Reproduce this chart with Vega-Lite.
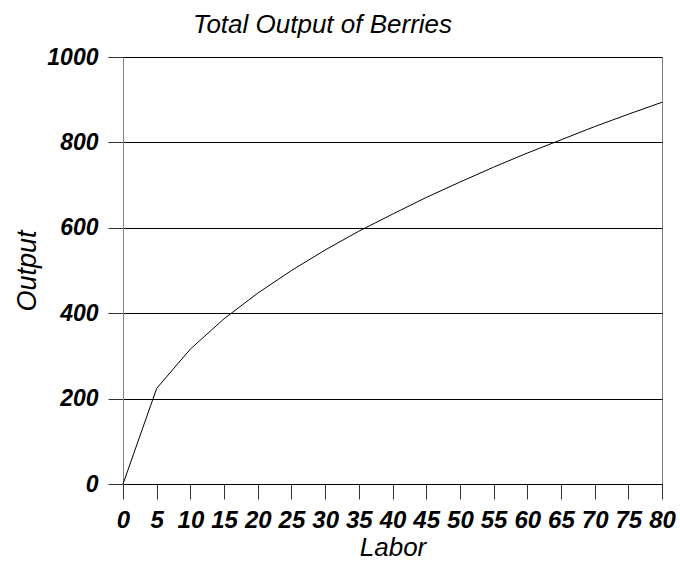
{
  "$schema": "https://vega.github.io/schema/vega-lite/v6.json",
  "autosize": {"type": "none"},
  "width": 539,
  "height": 427,
  "padding": {"left": 123, "top": 57, "right": 18, "bottom": 83},
  "background": "white",
  "config": {
    "view": {"stroke": "#808080", "strokeWidth": 1},
    "font": "Liberation Sans"
  },
  "title": {
    "text": "Total Output of Berries",
    "font": "Liberation Sans",
    "fontSize": 26,
    "fontStyle": "italic",
    "fontWeight": "normal",
    "color": "black",
    "dx": -70,
    "offset": 8
  },
  "data": {
    "values": [
      {"Labor": 0, "Output": 0},
      {"Labor": 5, "Output": 224},
      {"Labor": 10, "Output": 316},
      {"Labor": 15, "Output": 387},
      {"Labor": 20, "Output": 447},
      {"Labor": 25, "Output": 500},
      {"Labor": 30, "Output": 548},
      {"Labor": 35, "Output": 592},
      {"Labor": 40, "Output": 632},
      {"Labor": 45, "Output": 671},
      {"Labor": 50, "Output": 707},
      {"Labor": 55, "Output": 742},
      {"Labor": 60, "Output": 775},
      {"Labor": 65, "Output": 806},
      {"Labor": 70, "Output": 837},
      {"Labor": 75, "Output": 866},
      {"Labor": 80, "Output": 894}
    ]
  },
  "mark": {"type": "line", "color": "black", "strokeWidth": 1},
  "encoding": {
    "x": {
      "field": "Labor",
      "type": "quantitative",
      "scale": {"domain": [0, 80], "nice": false},
      "axis": {
        "values": [0,5,10,15,20,25,30,35,40,45,50,55,60,65,70,75,80],
        "grid": false,
        "domainColor": "black",
        "tickColor": "#333333",
        "tickSize": 15,
        "labelPadding": 9,
        "labelFont": "Liberation Sans",
        "labelFontSize": 24,
        "labelFontStyle": "italic",
        "labelFontWeight": "bold",
        "labelColor": "black",
        "labelAngle": 0,
        "labelOverlap": false,
        "labelFlush": false,
        "title": "Labor",
        "titleFont": "Liberation Sans",
        "titleFontSize": 26,
        "titleFontStyle": "italic",
        "titleFontWeight": "normal",
        "titleColor": "black",
        "titlePadding": 2
      }
    },
    "y": {
      "field": "Output",
      "type": "quantitative",
      "scale": {"domain": [0, 1000], "nice": false},
      "axis": {
        "values": [0, 200, 400, 600, 800, 1000],
        "format": "d",
        "grid": true,
        "gridColor": "black",
        "gridOpacity": 1,
        "domainColor": "#808080",
        "tickColor": "#333333",
        "tickSize": 15,
        "labelPadding": 10,
        "labelFont": "Liberation Sans",
        "labelFontSize": 23,
        "labelFontStyle": "italic",
        "labelFontWeight": "bold",
        "labelColor": "black",
        "labelFlush": false,
        "title": "Output",
        "titleFont": "Liberation Sans",
        "titleFontSize": 27,
        "titleFontStyle": "italic",
        "titleFontWeight": "normal",
        "titleColor": "black",
        "titlePadding": 5
      }
    }
  }
}
